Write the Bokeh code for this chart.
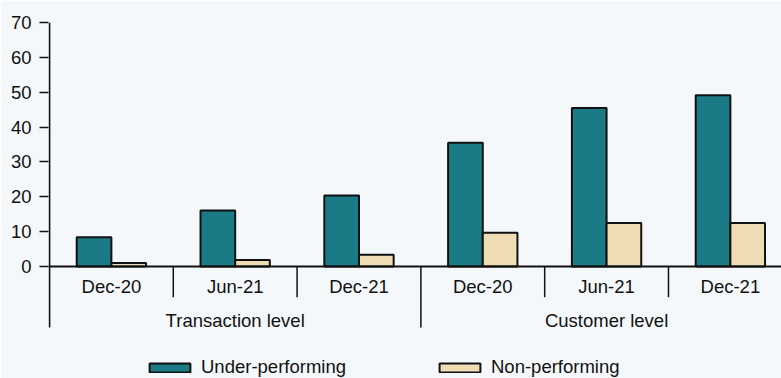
import numpy as np
from bokeh.plotting import figure
from bokeh.models import ColumnDataSource, Range1d, FixedTicker, Span, Legend, LegendItem
from bokeh.core.properties import value
from bokeh.embed import file_html
from bokeh.resources import INLINE

# Share of loans (%) by classification, at transaction and customer level
groups = ["Transaction level", "Customer level"]
periods = ["Dec-20", "Jun-21", "Dec-21", "Dec-20", "Jun-21", "Dec-21"]
under_performing = [8.4, 16.1, 20.4, 35.5, 45.5, 49.1]
non_performing = [1.0, 1.9, 3.4, 9.7, 12.5, 12.5]
y_ticks = [0, 10, 20, 30, 40, 50, 60, 70]

TEAL = "#1a7a85"
SAND = "#eedcb4"
BG = "#f5f8fa"
INK = "#111111"
FONT = "Liberation Sans"
FONT_SIZE = "18.5px"

n = len(periods)
per_group = n // len(groups)
idx = np.arange(n)

# vertical layout of the category area, in value units below the zero line
AXIS_BOTTOM = -17.5
INNER_SEP_BOTTOM = -8.8
PERIOD_LABEL_Y = -5.8
GROUP_LABEL_Y = -15.6

bars = ColumnDataSource(dict(
    x_up=idx + 0.36,
    x_np=idx + 0.64,
    up=under_performing,
    nonp=non_performing,
))

p = figure(
    width=781, height=378,
    x_range=Range1d(-0.008, 5.913), y_range=Range1d(-32.13, 70),
    output_backend="svg", toolbar_location=None,
    x_axis_location=None, y_axis_location="left",
    min_border_left=48, min_border_right=0, min_border_top=22, min_border_bottom=0,
    background_fill_color=BG, border_fill_color=BG, outline_line_color=None,
)
p.grid.visible = False

yax = p.yaxis[0]
yax.ticker = FixedTicker(ticks=y_ticks)
yax.major_tick_out = 9
yax.major_tick_in = 0
yax.minor_tick_line_color = None
yax.major_label_standoff = 8
yax.axis_line_color = None
yax.major_tick_line_width = 1.5
yax.major_tick_line_color = INK
yax.major_label_text_font = FONT
yax.major_label_text_font_size = FONT_SIZE
yax.major_label_text_color = INK

r_up = p.vbar(x="x_up", top="up", bottom=0, width=0.28, source=bars,
              fill_color=TEAL, line_color=INK, line_width=2)
r_np = p.vbar(x="x_np", top="nonp", bottom=0, width=0.28, source=bars,
              fill_color=SAND, line_color=INK, line_width=2)

p.add_layout(Span(location=0, dimension="width", line_color=INK, line_width=1.8))

# value axis line, running on down through the category area
p.segment(x0=[0], y0=[max(y_ticks)], x1=[0], y1=[AXIS_BOTTOM],
          line_color=INK, line_width=1.8)

# category separators: short ones between periods, long ones between groups
inner = [i for i in range(1, n) if i % per_group != 0]
outer = [i for i in range(1, n) if i % per_group == 0]
p.segment(x0=inner, y0=[0] * len(inner), x1=inner, y1=[INNER_SEP_BOTTOM] * len(inner),
          line_color=INK, line_width=1.5)
p.segment(x0=outer, y0=[0] * len(outer), x1=outer, y1=[AXIS_BOTTOM] * len(outer),
          line_color=INK, line_width=1.5)

period_labels = ColumnDataSource(dict(x=idx + 0.5, y=[PERIOD_LABEL_Y] * n, text=periods))
p.text(x="x", y="y", text="text", source=period_labels,
       text_font=value(FONT), text_font_size=FONT_SIZE, text_color=INK,
       text_align="center", text_baseline="middle")

group_labels = ColumnDataSource(dict(
    x=[g * per_group + per_group / 2 for g in range(len(groups))],
    y=[GROUP_LABEL_Y] * len(groups), text=groups))
p.text(x="x", y="y", text="text", source=group_labels,
       text_font=value(FONT), text_font_size=FONT_SIZE, text_color=INK,
       text_align="center", text_baseline="middle")


def make_legend(label, renderer, loc):
    return Legend(
        items=[LegendItem(label=label, renderers=[renderer])],
        location=loc, orientation="horizontal",
        glyph_width=51, glyph_height=11, label_standoff=6,
        padding=0, margin=0, spacing=0,
        border_line_color=None, background_fill_alpha=0,
        label_text_font=FONT, label_text_font_size=FONT_SIZE, label_text_color=INK,
    )


p.add_layout(make_legend("Under-performing", r_up, (96, 0)))
p.add_layout(make_legend("Non-performing", r_np, (386, 0)))

open("out.html", "w").write(file_html(p, INLINE))
